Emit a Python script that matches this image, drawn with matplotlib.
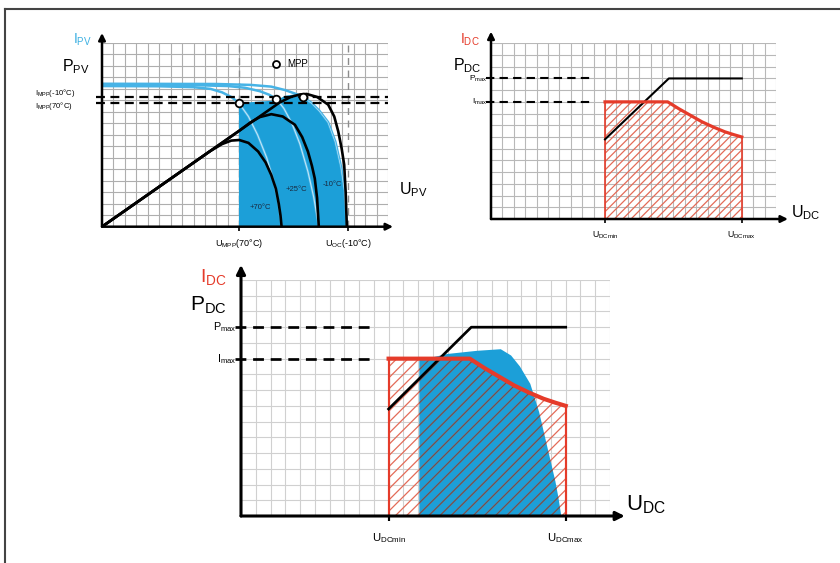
import numpy as np
import matplotlib
matplotlib.use('Agg')
from matplotlib import pyplot as plt
from matplotlib.patches import Polygon

plt.rcParams['font.family'] = ['Liberation Sans', 'DejaVu Sans']
plt.rcParams['mathtext.fontset'] = 'custom'
plt.rcParams['mathtext.rm'] = 'Liberation Sans'
plt.rcParams['mathtext.it'] = 'Liberation Sans:italic'
plt.rcParams['mathtext.bf'] = 'Liberation Sans:bold'
plt.rcParams['hatch.linewidth'] = 0.9

# all values are in grid cells of the drawing

# PV generator (top left)
temps = ['+70°C', '+25°C', '-10°C']
pv_u = [
    [0, 9.4, 10.5, 11.3, 12.0, 12.8, 13.65, 14.3, 14.8, 15.2, 15.45, 15.6, 15.7],
    [0, 12.0, 13.0, 13.8, 14.8, 15.8, 16.86, 17.5, 18.0, 18.35, 18.6, 18.8, 18.95],
    [0, 14.5, 15.5, 16.5, 17.3, 17.9, 18.8, 19.77, 20.3, 20.65, 20.95, 21.17, 21.3, 21.4],
]
pv_p = [
    [0, 6.55, 7.2, 7.5, 7.55, 7.3, 6.55, 5.6, 4.5, 3.3, 2.0, 1.0, 0],
    [0, 8.36, 9.1, 9.55, 9.8, 9.6, 8.88, 7.8, 6.55, 5.3, 4.2, 2.5, 0],
    [0, 10.1, 10.8, 11.3, 11.52, 11.56, 11.3, 10.63, 9.6, 8.3, 6.8, 5.4, 3.0, 0],
]
iv_u = [
    [0, 5, 8, 9.5, 10.5, 11.3, 11.97, 12.8, 13.6, 14.4, 15.0, 15.4, 15.7],
    [0, 8, 11, 12.5, 13.8, 14.6, 15.25, 15.9, 16.6, 17.3, 18.0, 18.5, 18.95],
    [0, 10, 13, 14.8, 16.0, 17.0, 17.6, 18.3, 19.0, 19.77, 20.4, 20.9, 21.2, 21.4],
]
iv_i = [
    [12.25, 12.23, 12.15, 12.0, 11.7, 11.3, 10.77, 9.6, 8.0, 6.0, 4.0, 2.2, 0],
    [12.35, 12.33, 12.25, 12.1, 11.8, 11.5, 11.12, 10.3, 9.0, 7.2, 4.8, 2.6, 0],
    [12.45, 12.43, 12.35, 12.2, 11.9, 11.55, 11.27, 10.8, 10.1, 9.1, 7.4, 5.2, 3.2, 0],
]
mpp_u = [11.97, 15.25, 17.6]
mpp_i = [10.77, 11.12, 11.27]
u_oc_m10 = 21.5
area_u = [11.97, 15.25, 16.0, 17.0, 17.6, 18.3, 19.0, 19.77, 20.4, 20.9, 21.2, 21.4]
area_i = [10.77, 11.0, 11.4, 11.55, 11.27, 10.8, 10.1, 9.1, 7.4, 5.2, 3.2, 0]

# inverter input range (top right and bottom)
udc_min, udc_max = 10, 22
p_max, i_max = 12, 10
pdc_u = [10, 15.6, 22]
pdc_p = [6.8, 12, 12]
idc_u = [10, 15.5, 16.5, 17.5, 18.5, 19.5, 20.5, 21.3, 22]
idc_i = [10, 10, 9.4, 8.85, 8.3, 7.85, 7.45, 7.2, 7.0]

# PV field seen at the inverter (bottom)
field_u = [12.08, 12.08, 14, 16, 17.6, 18.3, 18.9, 19.6, 20.2, 20.6, 20.9, 21.3, 21.5, 21.7]
field_i = [0, 9.9, 10.3, 10.5, 10.6, 10.2, 9.5, 8.4, 6.6, 5.0, 3.8, 2.2, 1.2, 0]

BLUE = '#1c9fd8'
LBLUE = '#47b3e6'
RED = '#e53b2a'
RHATCH = '#e36b58'

W, H = 840, 563
fig = plt.figure(figsize=(W / 100, H / 100), dpi=100)

# frame on top and left
fig.add_artist(plt.Line2D([5 / W, 1], [1 - 9 / H, 1 - 9 / H], color='#444444', lw=1.5))
fig.add_artist(plt.Line2D([5 / W, 5 / W], [0, 1 - 9 / H], color='#444444', lw=1.5))


def add_panel(x0, y0, x1, y1, ncols, nrows, gcolor):
    # x0, y0: axis origin in pixels, x1, y1: upper right grid corner
    ax = fig.add_axes([x0 / W, 1 - y0 / H, (x1 - x0) / W, (y0 - y1) / H])
    ax.set_xlim(0, ncols)
    ax.set_ylim(0, nrows)
    ax.axis('off')
    ax.vlines(np.arange(1, ncols + 1), 0, nrows, color=gcolor, lw=0.8, zorder=0)
    ax.hlines(np.arange(1, nrows + 1), 0, ncols, color=gcolor, lw=0.8, zorder=0)
    return ax


def arrows(ax, xtip, ytip, lw, ms):
    kw = dict(arrowstyle='-|>', lw=lw, color='k', mutation_scale=ms, shrinkA=0, shrinkB=0)
    ax.annotate('', xy=(xtip, 0), xytext=(0, 0), arrowprops=kw, annotation_clip=False, zorder=6)
    ax.annotate('', xy=(0, ytip), xytext=(0, 0), arrowprops=kw, annotation_clip=False, zorder=6)


# ---------------- top left: PV generator ----------------
ax1 = add_panel(102, 226.7, 388, 43, 25, 16, '#aeaeae')
ax1.vlines([mpp_u[0], u_oc_m10], 0, 16, colors='#8c8c8c', lw=1.0, linestyles=(0, (5, 4)), zorder=1)
verts = [(area_u[0], 0)] + list(zip(area_u, area_i))
area = Polygon(verts, closed=True, facecolor=BLUE, lw=0, zorder=1)
ax1.add_patch(area)
for u, i in zip(iv_u, iv_i):
    ax1.plot(u, i, color=LBLUE, lw=1.8, zorder=2)
    ln, = ax1.plot(u, i, color='#bfe6f7', lw=0.8, zorder=2)
    ln.set_clip_path(area)
for u, p in zip(pv_u, pv_p):
    ax1.plot(u, p, color='k', lw=1.9, zorder=3)
ax1.hlines([mpp_i[0], mpp_i[2]], -0.5, 25, colors='k', lw=1.6, linestyles=(0, (4, 2.5)),
           zorder=4, clip_on=False)
ax1.plot(mpp_u, mpp_i, 'o', ms=5.5, mfc='white', mec='k', mew=1.3, zorder=5)
ax1.plot([15.25], [14.2], 'o', ms=5, mfc='white', mec='k', mew=1.3, zorder=5)
ax1.text(16.2, 14.2, 'MPP', fontsize=7, va='center')
for t, x, y in zip(temps, [13.8, 17.0, 20.1], [1.7, 3.2, 3.7]):
    ax1.text(x, y, t, fontsize=5.5, color='#1a2a40', ha='center', va='center', zorder=6)
ax1.vlines([mpp_u[0], u_oc_m10], -0.35, 0, colors='k', lw=1.2, clip_on=False)
arrows(ax1, 25.44, 16.87, 1.8, 10)
ax1.text(-1.75, 16.3, r'I$_\mathrm{PV}$', color='#3cb0e2', fontsize=10, ha='center', va='center')
ax1.text(-2.3, 13.9, r'P$_\mathrm{PV}$', fontsize=11.5, ha='center', va='center')
ax1.text(-5.9, mpp_i[2] + 0.35, r'I$_\mathrm{MPP}$(-10°C)', fontsize=5.5, va='center')
ax1.text(-5.9, mpp_i[0] - 0.25, r'I$_\mathrm{MPP}$(70°C)', fontsize=5.5, va='center')
ax1.text(mpp_u[0], -1.45, r'U$_\mathrm{MPP}$(70°C)', fontsize=6.5, ha='center', va='center')
ax1.text(u_oc_m10, -1.45, r'U$_\mathrm{OC}$(-10°C)', fontsize=6.5, ha='center', va='center')
ax1.text(26.0, 3.2, r'U$_\mathrm{PV}$', fontsize=11.5, va='center')


# ---------------- inverter window (shared drawing) ----------------
def inverter(ax, big):
    s = 1.3 if big else 1.0
    pattern = '///' if big else '////'
    window = [(udc_min, 0)] + list(zip(idc_u, idc_i)) + [(udc_max, 0)]
    if big:
        field = Polygon(list(zip(field_u, field_i)), closed=True, facecolor=BLUE, lw=0, zorder=1)
        ax.add_patch(field)
    hatch = Polygon(window, closed=True, facecolor='none', edgecolor=RHATCH, hatch=pattern, lw=0, zorder=2)
    ax.add_patch(hatch)
    if big:
        dark = Polygon(window, closed=True, facecolor='none', edgecolor='#5b5860', hatch=pattern, lw=0, zorder=2.5)
        ax.add_patch(dark)
        dark.set_clip_path(field)
    ax.vlines([udc_min], 0, idc_i[0], colors=RED, lw=1.2 * s, zorder=3)
    ax.vlines([udc_max], 0, idc_i[-1], colors=RED, lw=1.2 * s, zorder=3)
    ax.plot(pdc_u, pdc_p, color='k', lw=1.5 * s, zorder=4)
    ax.plot(idc_u, idc_i, color=RED, lw=2.3 * s, zorder=5, solid_joinstyle='round')
    ax.hlines([p_max, i_max], -0.4, 9, colors='k', lw=1.5 * s, linestyles=(0, (4, 2.5)),
              zorder=4, clip_on=False)
    ax.vlines([udc_min, udc_max], -0.3, 0, colors='k', lw=1.2 * s, clip_on=False)
    ax.text(-0.3, p_max, r'P$_\mathrm{max}$', fontsize=6 * s, ha='right', va='center')
    ax.text(-0.3, i_max, r'I$_\mathrm{max}$', fontsize=6 * s, ha='right', va='center')
    ax.text(udc_min, -1.4, r'U$_\mathrm{DCmin}$', fontsize=6.3 * s, ha='center', va='center')
    ax.text(udc_max, -1.4, r'U$_\mathrm{DCmax}$', fontsize=6.3 * s, ha='center', va='center')


ax2 = add_panel(491, 219, 776, 43.3, 25, 15, '#b8b8b8')
inverter(ax2, False)
arrows(ax2, 26.05, 16.0, 1.8, 10)
ax2.text(-1.85, 15.3, r'I$_\mathrm{DC}$', color=RED, fontsize=10, ha='center', va='center')
ax2.text(-2.1, 13.1, r'P$_\mathrm{DC}$', fontsize=11.5, ha='center', va='center')
ax2.text(26.3, 0.55, r'U$_\mathrm{DC}$', fontsize=11.5, va='center')

ax3 = add_panel(241, 516, 610, 280, 25, 15, '#d0d0d0')
inverter(ax3, True)
arrows(ax3, 26.0, 15.96, 2.2, 13)
ax3.text(-1.85, 15.2, r'I$_\mathrm{DC}$', color=RED, fontsize=14, ha='center', va='center')
ax3.text(-2.2, 13.4, r'P$_\mathrm{DC}$', fontsize=15, ha='center', va='center')
ax3.text(26.1, 0.7, r'U$_\mathrm{DC}$', fontsize=16, va='center')

fig.savefig('out.png', dpi=100)
